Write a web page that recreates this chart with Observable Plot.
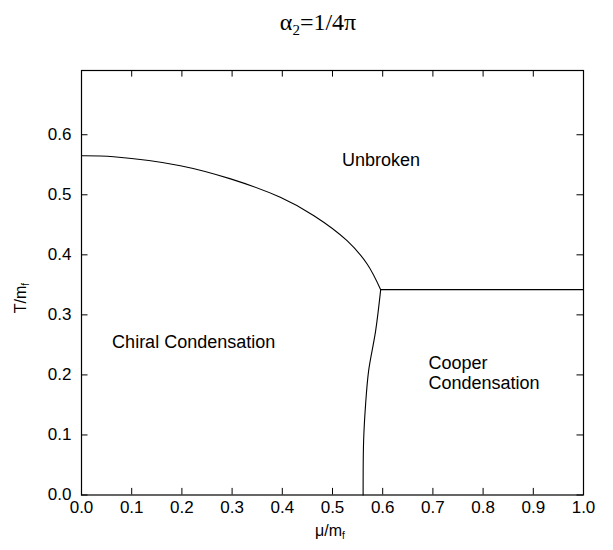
<!DOCTYPE html>
<html><head><meta charset="utf-8">
<script src="https://cdn.jsdelivr.net/npm/d3@7"></script>
<script src="https://cdn.jsdelivr.net/npm/@observablehq/plot@0.6"></script>
<style>body{margin:0;background:#fff}</style>
</head><body><div id="chart"></div>
<script>
// Tick values
const xTicks = [0, 0.1, 0.2, 0.3, 0.4, 0.5, 0.6, 0.7, 0.8, 0.9, 1.0];
const yTicks = [0, 0.1, 0.2, 0.3, 0.4, 0.5, 0.6];

// Chiral / unbroken boundary (upper curve)
const upperMu = [0, 0.064, 0.197, 0.297, 0.396, 0.463, 0.529, 0.569, 0.596];
const upperT  = [0.565, 0.5634, 0.5485, 0.5265, 0.4957, 0.4652, 0.4236, 0.3848, 0.342];

// Chiral / Cooper boundary (lower curve)
const lowerMu = [0.561, 0.562, 0.566, 0.572, 0.586, 0.596];
const lowerT  = [0.0, 0.0907, 0.1518, 0.2072, 0.2738, 0.342];

// Cooper / unbroken boundary (horizontal)
const flatMu = [0.596, 1.0];
const flatT  = [0.342, 0.342];

// Region labels
const labelText = ["Unbroken", "Chiral Condensation", "Cooper", "Condensation"];
const labelMu   = [0.519, 0.061, 0.691, 0.691];
const labelT    = [0.557, 0.254, 0.219, 0.186];

const toRows = (xs, ys) => xs.map((x, i) => ({x, y: ys[i]}));
const upper = toRows(upperMu, upperT);
const lower = toRows(lowerMu, lowerT);
const flat = toRows(flatMu, flatT);
const labels = labelText.map((t, i) => ({t, x: labelMu[i], y: labelT[i]}));

const yMax = 0.707;
const plot = Plot.plot({
  width: 613, height: 550,
  marginLeft: 81, marginRight: 30, marginTop: 70, marginBottom: 55.5,
  style: {fontFamily: "'Liberation Sans', Arial, sans-serif", fontSize: "17px", color: "#000", background: "#fff"},
  x: {domain: [0, 1]},
  y: {domain: [0, yMax]},
  marks: [
    Plot.ruleX(xTicks, {x: d => d, y1: 0, y2: 0.011, stroke: "#000"}),
    Plot.ruleX(xTicks, {x: d => d, y1: yMax, y2: yMax - 0.011, stroke: "#000"}),
    Plot.ruleY(yTicks, {y: d => d, x1: 0, x2: 0.013, stroke: "#000"}),
    Plot.ruleY(yTicks, {y: d => d, x1: 1, x2: 0.987, stroke: "#000"}),
    Plot.line(upper, {x: "x", y: "y", curve: "catmull-rom", stroke: "#000", strokeWidth: 1.1}),
    Plot.line(lower, {x: "x", y: "y", curve: "catmull-rom", stroke: "#000", strokeWidth: 1.1}),
    Plot.line(flat, {x: "x", y: "y", stroke: "#000", strokeWidth: 1.1}),
    Plot.text(labels, {x: "x", y: "y", text: "t", textAnchor: "start", fontSize: 18, fill: "#000"}),
    Plot.axisX(xTicks, {tickFormat: d3.format(".1f"), tickSize: 0, tickPadding: 6, label: null, fontSize: 17}),
    Plot.axisY(yTicks, {tickFormat: d3.format(".1f"), tickSize: 0, tickPadding: 10, label: null, fontSize: 17}),
    Plot.frame({stroke: "#000", strokeWidth: 1.2})
  ]
});

const svg = d3.select(plot);
// Title
const title = svg.append("text")
  .attr("x", 318).attr("y", 30)
  .attr("text-anchor", "middle")
  .attr("font-family", "'Liberation Serif', 'Times New Roman', serif")
  .attr("font-size", 24)
  .attr("fill", "#000");
title.append("tspan").text("α");
title.append("tspan").attr("font-size", 15).attr("dy", 5).text("2");
title.append("tspan").attr("dy", -5).text("=1/4π");

// X axis label
const xl = svg.append("text")
  .attr("x", 330).attr("y", 536)
  .attr("text-anchor", "middle")
  .attr("font-family", "'Liberation Sans', Arial, sans-serif")
  .attr("font-size", 16).attr("fill", "#000");
xl.append("tspan").text("μ/m");
xl.append("tspan").attr("font-size", 10).attr("dy", 3).text("f");

// Y axis label
const yl = svg.append("text")
  .attr("transform", "translate(26,298) rotate(-90)")
  .attr("text-anchor", "middle")
  .attr("font-family", "'Liberation Sans', Arial, sans-serif")
  .attr("font-size", 16).attr("fill", "#000");
yl.append("tspan").text("T/m");
yl.append("tspan").attr("font-size", 10).attr("dy", 3).text("f");

document.getElementById("chart").append(plot);
</script>
</body></html>
